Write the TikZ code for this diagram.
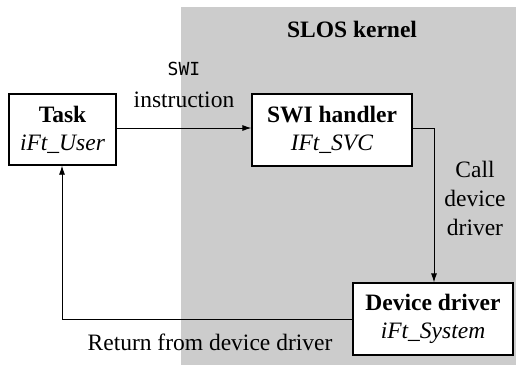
\documentclass[tikz,border=0pt]{standalone}
\usepackage{fontspec}
\setmainfont{Liberation Serif}
\setmonofont{DejaVu Sans Mono}
\usetikzlibrary{arrows.meta}
\begin{document}
\begin{tikzpicture}[x=1pt,y=-1pt,
  box/.style={draw,line width=1.3pt,fill=white,inner sep=0pt,align=center,font=\fontsize{23.5}{28}\selectfont},
  lbl/.style={align=center,font=\fontsize{23.5}{29}\selectfont,inner sep=0pt},
  conn/.style={line width=0.8pt,-{Latex[length=9pt,width=6pt]}}]
\useasboundingbox (0,0) rectangle (516,365);
\fill[fill={rgb,255:red,204;green,204;blue,204}] (181,7) rectangle (516,365);
\node[lbl,font=\fontsize{23.5}{28}\selectfont\bfseries] (k) at (352,29) {SLOS kernel};
\node[box,minimum width=107pt,minimum height=71pt] (task) at (62.5,129.5) {\textbf{Task}\\\textit{iFt\_User}};
\node[box,minimum width=160pt,minimum height=72pt] (swi) at (332,130) {\textbf{SWI handler}\\\textit{IFt\_SVC}};
\node[box,minimum width=160pt,minimum height=72pt] (dd) at (433,319) {\textbf{Device driver}\\\textit{iFt\_System}};
\node[lbl] (l1) at (184,85) {{\fontsize{18}{20}\selectfont\ttfamily SWI}\\[3pt]instruction};
\node[lbl] (l2) at (475,198) {Call\\device\\driver};
\node[lbl] (l3) at (210,342) {Return from device driver};
\coordinate (c1) at (434,128);
\coordinate (c2) at (62,319);
\draw[conn] (task.east |- 0,128) -- (swi.west |- 0,128);
\draw[conn] (swi.east |- 0,128) -- (c1) -- (dd.north -| c1);
\draw[conn] (dd.west) -- (c2) -- (task.south -| c2);
\end{tikzpicture}
\end{document}
